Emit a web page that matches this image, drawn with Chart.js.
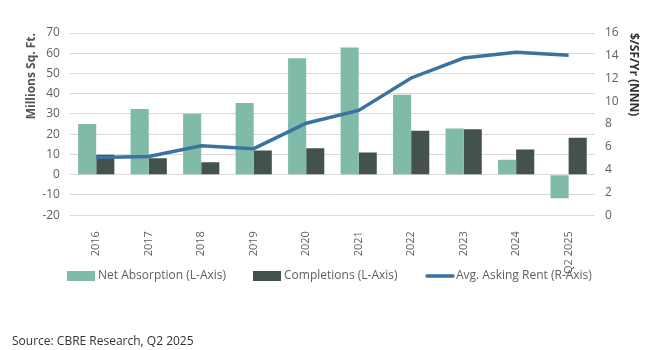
<!DOCTYPE html>
<html>
<head>
<meta charset="utf-8">
<script src="https://cdn.jsdelivr.net/npm/chart.js@4"></script>
<style>
  body { margin: 0; background: #fff; }
  #wrap { position: relative; width: 659px; height: 350px; }
</style>
</head>
<body>
<div id="wrap"><canvas id="chart"></canvas></div>
<script>
const years = ["2016", "2017", "2018", "2019", "2020", "2021", "2022", "2023", "2024", "Q2 2025"];
const netAbsorption = [25, 32.4, 30.1, 35.4, 57.5, 62.8, 39.5, 22.8, 7.4, -11.7];
const completions = [9.8, 8.1, 6.1, 12, 13, 10.9, 21.7, 22.5, 12.4, 18.2];
const askingRent = [5.07, 5.15, 6.1, 5.84, 8.07, 9.2, 12.05, 13.8, 14.3, 14.05];

const FONT = "'Open Sans', sans-serif";
const GREY = "#5f5f5f";

// legend drawn by hand so the item spacing matches the original
const legendX = [67, 253, 425];
const bottomLegend = {
  id: "bottomLegend",
  afterDraw(chart) {
    const { ctx } = chart;
    const y = 276;
    ctx.save();
    ctx.font = "12px " + FONT;
    ctx.textBaseline = "middle";
    chart.data.datasets.forEach((ds, i) => {
      const x = legendX[i];
      if (ds.type === "line") {
        ctx.strokeStyle = ds.borderColor;
        ctx.lineWidth = 3.5;
        ctx.lineCap = "round";
        ctx.beginPath();
        ctx.moveTo(x + 2, y);
        ctx.lineTo(x + 28, y);
        ctx.stroke();
      } else {
        ctx.fillStyle = ds.backgroundColor;
        ctx.fillRect(x, y - 5, 28, 10);
      }
      ctx.fillStyle = GREY;
      ctx.fillText(ds.label, x + 31, y);
    });
    ctx.fillStyle = "#333";
    ctx.textBaseline = "alphabetic";
    ctx.fillText("Source: CBRE Research, Q2 2025", 12, 345);
    ctx.restore();
  },
};

new Chart(document.getElementById("chart"), {
  data: {
    labels: years,
    datasets: [
      {
        type: "bar",
        label: "Net Absorption (L-Axis)",
        data: netAbsorption,
        backgroundColor: "#80baa9",
        yAxisID: "y",
        order: 1,
      },
      {
        type: "bar",
        label: "Completions (L-Axis)",
        data: completions,
        backgroundColor: "#43524f",
        yAxisID: "y",
        order: 1,
      },
      {
        type: "line",
        label: "Avg. Asking Rent (R-Axis)",
        data: askingRent,
        borderColor: "#3b73a0",
        backgroundColor: "#3b73a0",
        borderWidth: 3.5,
        pointRadius: 0,
        tension: 0,
        yAxisID: "y1",
        order: 0,
      },
    ],
  },
  options: {
    responsive: true,
    maintainAspectRatio: false,
    animation: false,
    layout: { padding: { left: 24, right: 17, top: 33, bottom: 68 } },
    datasets: {
      bar: { barPercentage: 1, categoryPercentage: 0.69 },
    },
    scales: {
      x: {
        grid: { display: false },
        border: { display: false },
        ticks: {
          autoSkip: false,
          color: GREY,
          font: { family: FONT, size: 11 },
          minRotation: 90,
          maxRotation: 90,
          padding: 8,
        },
      },
      y: {
        position: "left",
        min: -20,
        max: 70,
        ticks: {
          stepSize: 10,
          autoSkip: false,
          color: GREY,
          font: { family: FONT, size: 12 },
          padding: 10,
        },
        grid: { color: "#d9d9d9", drawTicks: false },
        border: { display: false },
        title: {
          display: true,
          text: "Millions Sq. Ft.",
          align: "end",
          color: "#555",
          font: { family: FONT, size: 12, weight: "bold" },
          padding: { top: 0, bottom: -6 },
        },
      },
      y1: {
        position: "right",
        min: 0,
        max: 16,
        ticks: {
          stepSize: 2,
          autoSkip: false,
          color: GREY,
          font: { family: FONT, size: 12 },
          padding: 10,
        },
        grid: { display: false, drawTicks: false },
        border: { display: false },
        title: {
          display: true,
          text: "$/SF/Yr (NNN)",
          align: "end",
          color: "#333",
          font: { family: FONT, size: 12, weight: "bold" },
          padding: { top: 1, bottom: -2 },
        },
      },
    },
    plugins: {
      tooltip: { enabled: false },
      legend: { display: false },
    },
  },
  plugins: [bottomLegend],
});
</script>
</body>
</html>
